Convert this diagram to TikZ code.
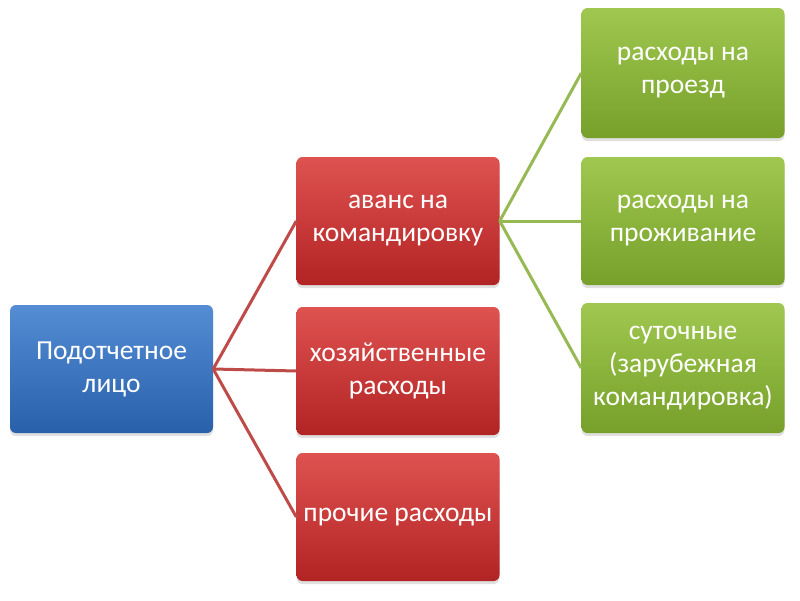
\documentclass[tikz,border=0pt]{standalone}
\usepackage{fontspec}
\setmainfont{Carlito}
\usetikzlibrary{shadows}
\begin{document}
\begin{tikzpicture}[x=1pt,y=-1pt,
  boxbase/.style={rounded corners=6pt, minimum width=203pt, inner sep=0pt, align=center,
    text=white, font=\fontsize{27.5}{33}\selectfont,
    drop shadow={shadow xshift=0pt, shadow yshift=-3pt, opacity=0.25}},
  bluebox/.style={boxbase, top color={rgb,255:red,84;green,141;blue,212}, bottom color={rgb,255:red,40;green,96;blue,170}},
  redbox/.style={boxbase, top color={rgb,255:red,222;green,82;blue,80}, bottom color={rgb,255:red,178;green,36;blue,36}},
  greenbox/.style={boxbase, top color={rgb,255:red,160;green,200;blue,80}, bottom color={rgb,255:red,118;green,160;blue,42}},
  redline/.style={draw={rgb,255:red,190;green,75;blue,72}, line width=3pt},
  greenline/.style={draw={rgb,255:red,150;green,185;blue,84}, line width=3pt}]
\useasboundingbox (0,0) rectangle (800,600);
\node[bluebox, minimum height=128pt] (p) at (111.5,369) {Подотчетное\\лицо};
\node[redbox, minimum height=128pt] (r1) at (398,221) {аванс на\\командировку};
\node[redbox, minimum height=128pt] (r2) at (398,371) {хозяйственные\\расходы};
\node[redbox, minimum height=128pt] (r3) at (398,517) {прочие расходы};
\node[greenbox, minimum height=130pt] (g1) at (683,73) {расходы на\\проезд};
\node[greenbox, minimum height=128pt] (g2) at (683,221) {расходы на\\проживание};
\node[greenbox, minimum height=130pt] (g3) at (683,368) {суточные\\(зарубежная\\командировка)};
\draw[redline] (p.east) -- (r1.west);
\draw[redline] (p.east) -- (r2.west);
\draw[redline] (p.east) -- (r3.west);
\draw[greenline] (r1.east) -- (g1.west);
\draw[greenline] (r1.east) -- (g2.west);
\draw[greenline] (r1.east) -- (g3.west);
\end{tikzpicture}
\end{document}
